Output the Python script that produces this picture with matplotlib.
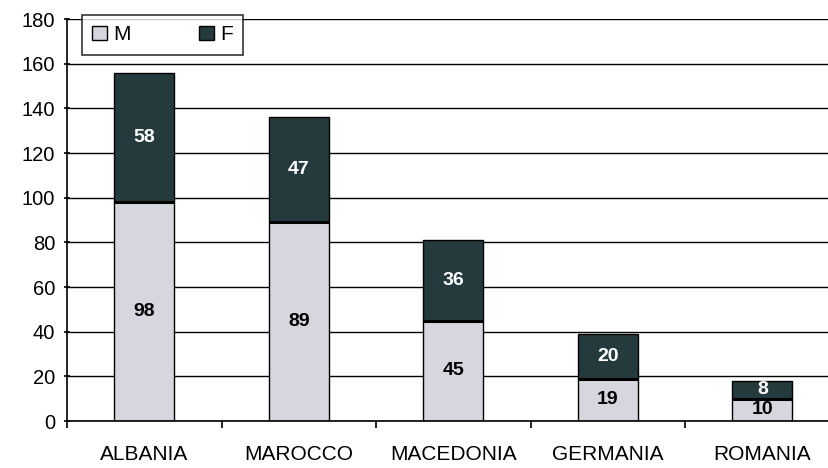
import matplotlib
matplotlib.use("Agg")
import matplotlib.pyplot as plt
import numpy as np

plt.rcParams['font.family'] = ['Liberation Sans', 'DejaVu Sans']

# --- data ---
countries = ["ALBANIA", "MAROCCO", "MACEDONIA", "GERMANIA", "ROMANIA"]
males = [98, 89, 45, 19, 10]
females = [58, 47, 36, 20, 8]

col_m = "#d6d6de"
col_f = "#243a3c"

fig = plt.figure(figsize=(8.29, 4.68), dpi=100)
ax = fig.add_axes([0.0808, 0.1004, 0.932, 0.859])

x = np.arange(len(countries))
w = 0.39
ax.set_axisbelow(True)
ax.yaxis.grid(True, color="black", lw=1)

bm = ax.bar(x, males, w, color=col_m, edgecolor="black", lw=1, label="M")
bf = ax.bar(x, females, w, bottom=males, color=col_f, edgecolor="black", lw=1, label="F")
# thicker line between the two segments
ax.hlines(males, x - w / 2, x + w / 2, color="black", lw=2.2)

for i in range(len(x)):
    ax.text(x[i], males[i] / 2, str(males[i]), ha="center", va="center",
            fontsize=14, fontweight="bold", color="black")
    ax.text(x[i], males[i] + females[i] / 2, str(females[i]), ha="center",
            va="center", fontsize=14, fontweight="bold", color="white")

ax.set_ylim(0, 180)
ax.set_yticks(range(0, 181, 20))
ax.set_xlim(-0.5, len(x) - 0.5)
ax.set_xticks(x)
ax.set_xticklabels(countries)
ax.set_xticks(np.arange(-0.5, len(x), 1), minor=True)
ax.tick_params(axis="x", which="major", length=0, pad=17, labelsize=15)
ax.tick_params(axis="x", which="minor", length=5, width=1.2, direction="out")
ax.tick_params(axis="y", length=5, width=1.2, direction="inout", labelsize=14.5, pad=6)

for s in ["top", "right"]:
    ax.spines[s].set_visible(False)
ax.spines["left"].set_linewidth(1.2)
ax.spines["bottom"].set_linewidth(1.2)

leg = ax.legend(loc="upper left", bbox_to_anchor=(0.019, 1.01), ncol=2,
                frameon=True, fancybox=False, edgecolor="black", fontsize=15,
                handlelength=0.7, handleheight=0.7, handletextpad=0.3,
                columnspacing=3.3, borderpad=0.5, borderaxespad=0)
leg.get_frame().set_linewidth(1.2)

fig.savefig("out.png", dpi=100)
